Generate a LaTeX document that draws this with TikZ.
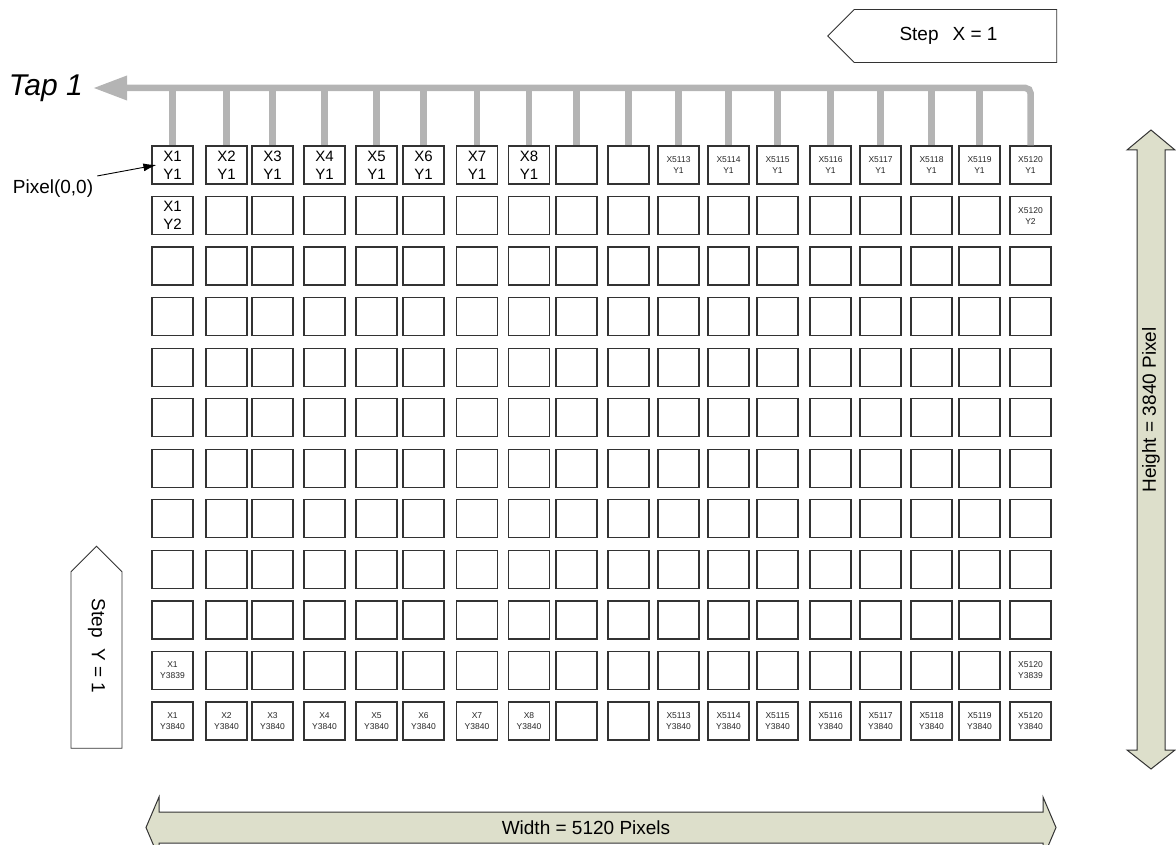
\documentclass[tikz,border=0pt]{standalone}
\usepackage{fontspec}
\setmainfont{Liberation Sans}
\usetikzlibrary{arrows.meta,positioning,shapes.symbols}
\definecolor{BusGray}{RGB}{180,180,180}
\definecolor{DimFill}{RGB}{221,223,203}
\definecolor{BoxLine}{RGB}{51,51,51}

\begin{document}
\begin{tikzpicture}[
    x=1pt, y=-1pt,
    pix/.style={draw=BoxLine, line width=1.2pt, fill=white, minimum width=41pt,
                minimum height=38pt, inner sep=0pt},
    big/.style={font=\fontsize{15}{18}\selectfont, align=center, inner sep=0pt},
    small/.style={font=\fontsize{8.5}{11}\selectfont, align=center, inner sep=0pt, text=black!85},
    bus/.style={BusGray, line width=6.5pt},
    stepbox/.style={draw=BoxLine, line width=0.9pt, fill=white, signal, signal to=west,
                inner sep=0pt, font=\fontsize{19}{22}\selectfont},
    dimbar/.style={draw=BoxLine, line width=1pt, fill=DimFill},
    dimlbl/.style={font=\fontsize{19}{22}\selectfont, inner sep=0pt}
  ]
    \useasboundingbox (0,0) rectangle (1176,845);

    % Pixel grid
    \foreach \r in {1,...,12}{
      \foreach \c/\x in {1/172.5, 2/226.5, 3/272.5, 4/324.5, 5/376.5, 6/423.5,
                         7/477, 8/529, 9/576.5, 10/628.5, 11/678.5, 12/728.5,
                         13/777.5, 14/830.5, 15/880.5, 16/931.5, 17/979.5, 18/1030.5}
        \node[pix] (c-\r-\c) at (\x,{165+(\r-1)*50.55}) {};
    }

    % Top row
    \foreach \c in {1,...,8}
      \node[big] (t-1-\c) at (c-1-\c) {X\c\\Y1};
    \foreach \c in {11,...,18}{
      \pgfmathtruncatemacro\xno{5102+\c}
      \node[small] (t-1-\c) at (c-1-\c) {X\xno\\Y1};
    }

    % Second and second-last rows
    \node[big]   (t-2-1)   at (c-2-1)   {X1\\Y2};
    \node[small] (t-2-18)  at (c-2-18)  {X5120\\Y2};
    \node[small] (t-11-1)  at (c-11-1)  {X1\\Y3839};
    \node[small] (t-11-18) at (c-11-18) {X5120\\Y3839};

    % Bottom row
    \foreach \c in {1,...,8}
      \node[small] (t-12-\c) at (c-12-\c) {X\c\\Y3840};
    \foreach \c in {11,...,18}{
      \pgfmathtruncatemacro\xno{5102+\c}
      \node[small] (t-12-\c) at (c-12-\c) {X\xno\\Y3840};
    }

    % Tap bus
    \coordinate (bustip) at (93,88);
    \draw[bus, rounded corners=5pt, -{Triangle[length=34pt,width=23pt]}] (c-1-18.north) |- (bustip);
    \foreach \c in {1,...,17}
      \draw[bus, shorten <=0.6pt] (c-1-\c.north) -- (c-1-\c.north |- bustip);
    \node[font=\fontsize{30}{32}\selectfont\itshape, inner sep=0pt, left=10pt of bustip] (tap) {Tap 1};

    % Origin marker
    \node[font=\fontsize{19}{22}\selectfont, inner sep=0pt] (pix00) at (53,189) {Pixel(0,0)};
    \draw[-{Latex[length=13pt,width=8pt]}, line width=0.9pt]
      ([xshift=4pt,yshift=4pt]pix00.north east) -- ([xshift=5pt]c-1-1.west);

    % Step arrows
    \node[stepbox, minimum width=229pt, minimum height=53pt] (stepx) at (955.5,36)
      {Step\hspace{14pt}X = 1\hspace*{14pt}};
    \node[stepbox, rotate=-90, minimum width=202pt, minimum height=51pt] (stepy) at (96.5,660)
      {Step\hspace{11pt}Y = 1\hspace*{28pt}};

    % Width dimension
    \draw[dimbar] (146,827.5) -- (159,797) -- (159,812) -- (1043,812) -- (1043,797) -- (1056,827.5)
      -- (1043,858) -- (1043,843) -- (159,843) -- (159,858) -- cycle;
    \node[dimlbl] (wlbl) at (586,828) {Width = 5120 Pixels};

    % Height dimension
    \draw[dimbar] (1151,130) -- (1175,150) -- (1165,150) -- (1165,750) -- (1175,750) -- (1151,769)
      -- (1127,750) -- (1137,750) -- (1137,150) -- (1127,150) -- cycle;
    \node[dimlbl, rotate=90] (hlbl) at (1151,410) {Height = 3840 Pixel};
\end{tikzpicture}
\end{document}
